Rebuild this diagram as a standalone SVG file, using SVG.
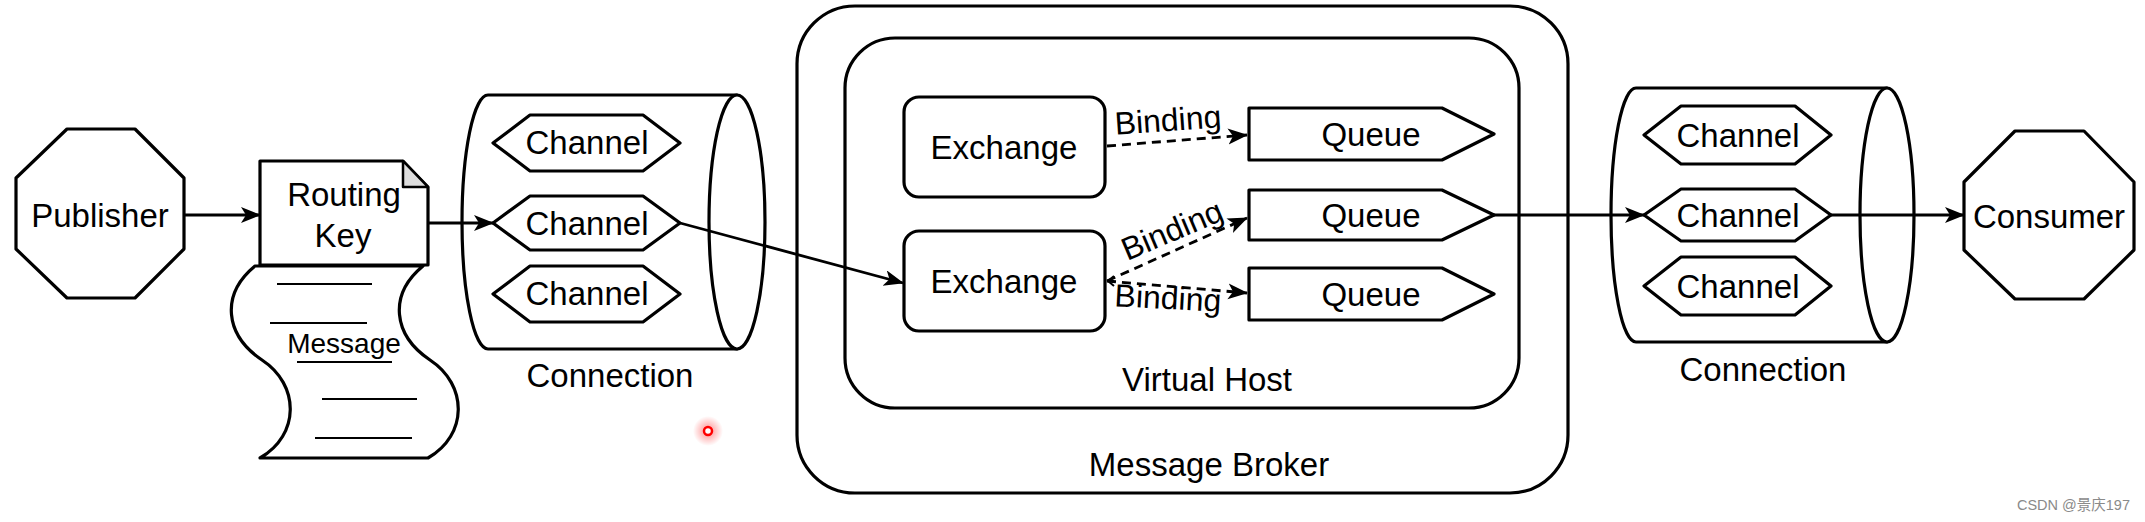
<svg xmlns="http://www.w3.org/2000/svg" width="2145" height="522" viewBox="0 0 2145 522">
<defs>
<style>
.s{fill:#fff;stroke:#000;stroke-width:3.2;stroke-linejoin:round}
.t{font-family:"Liberation Sans",Arial,sans-serif;font-size:33px;fill:#000;text-anchor:middle}
.c{fill:none;stroke:#000;stroke-width:2.8}
.d{fill:none;stroke:#000;stroke-width:2.8;stroke-dasharray:9 6}
.ml{stroke:#000;stroke-width:2.2}
</style>
<marker id="ah" markerUnits="userSpaceOnUse" markerWidth="22" markerHeight="18" refX="19" refY="8" orient="auto">
<path d="M0,0 L20,8 L0,16 L5,8 Z" fill="#000"/>
</marker>
<radialGradient id="glow">
<stop offset="0" stop-color="#ff0000" stop-opacity="0.45"/>
<stop offset="1" stop-color="#ff0000" stop-opacity="0"/>
</radialGradient>
</defs>
<rect width="2145" height="522" fill="#fff"/>

<g id="message-broker">
<rect class="s" x="797" y="6" width="771" height="487" rx="58" ry="58"/>
<text class="t" x="1209" y="476">Message Broker</text>
</g>
<g id="virtual-host">
<rect class="s" x="845" y="38" width="674" height="370" rx="50" ry="50"/>
<text class="t" x="1207" y="391">Virtual Host</text>
</g>

<g id="publisher">
<polygon class="s" points="67,129 135,129 184,178 184,249 135,298 67,298 16,249 16,178"/>
<text class="t" x="100" y="227">Publisher</text>
</g>

<g id="message">
<path class="s" d="M255,266 L423,266 C388,295 393,335 430,360 C468,385 468,435 428,458 L260,458 C300,435 300,385 262,360 C225,335 220,295 255,266 Z"/>
<line class="ml" x1="277" y1="284" x2="372" y2="284"/>
<line class="ml" x1="270" y1="323" x2="367" y2="323"/>
<line class="ml" x1="297" y1="362" x2="392" y2="362"/>
<line class="ml" x1="322" y1="399" x2="417" y2="399"/>
<line class="ml" x1="315" y1="438" x2="412" y2="438"/>
<text class="t" x="344" y="353" style="font-size:28px">Message</text>
</g>

<g id="routing-key">
<path class="s" d="M260,161 L403,161 L428,187 L428,265 L260,265 Z"/>
<path d="M403,161 L403,187 L428,187 Z" fill="#ddd" stroke="#000" stroke-width="2.5" stroke-linejoin="round"/>
<text class="t" x="344" y="206">Routing</text>
<text class="t" x="343" y="247">Key</text>
</g>

<g id="connection-left">
<path class="s" d="M737,95 L488,95 A26,127 0 0 0 488,349 L737,349 Z"/>
<ellipse class="s" cx="737" cy="222" rx="28" ry="127"/>
<text class="t" x="610" y="387">Connection</text>
</g>
<g id="channel-l1">
<polygon class="s" points="493,143 530,115 643,115 680,143 643,171 530,171"/>
<text class="t" x="587" y="154">Channel</text>
</g>
<g id="channel-l2">
<polygon class="s" points="493,223 530,196 643,196 680,223 643,250 530,250"/>
<text class="t" x="587" y="235">Channel</text>
</g>
<g id="channel-l3">
<polygon class="s" points="493,294 530,266 643,266 680,294 643,322 530,322"/>
<text class="t" x="587" y="305">Channel</text>
</g>

<g id="exchange-1">
<rect class="s" x="904" y="97" width="201" height="100" rx="15" ry="15"/>
<text class="t" x="1004" y="159">Exchange</text>
</g>
<g id="exchange-2">
<rect class="s" x="904" y="231" width="201" height="100" rx="15" ry="15"/>
<text class="t" x="1004" y="293">Exchange</text>
</g>

<g id="queue-1">
<polygon class="s" points="1249,108 1442,108 1494,134 1442,160 1249,160"/>
<text class="t" x="1371" y="146">Queue</text>
</g>
<g id="queue-2">
<polygon class="s" points="1249,190 1442,190 1494,215 1442,240 1249,240"/>
<text class="t" x="1371" y="227">Queue</text>
</g>
<g id="queue-3">
<polygon class="s" points="1249,268 1442,268 1494,294 1442,320 1249,320"/>
<text class="t" x="1371" y="306">Queue</text>
</g>

<g id="connection-right">
<path class="s" d="M1887,88 L1636,88 A25,127 0 0 0 1636,342 L1887,342 Z"/>
<ellipse class="s" cx="1887" cy="215" rx="27" ry="127"/>
<text class="t" x="1763" y="381">Connection</text>
</g>
<g id="channel-r1">
<polygon class="s" points="1644,135 1681,106 1795,106 1831,135 1795,164 1681,164"/>
<text class="t" x="1738" y="147">Channel</text>
</g>
<g id="channel-r2">
<polygon class="s" points="1644,215 1681,189 1795,189 1831,215 1795,241 1681,241"/>
<text class="t" x="1738" y="227">Channel</text>
</g>
<g id="channel-r3">
<polygon class="s" points="1644,286 1681,257 1795,257 1831,286 1795,315 1681,315"/>
<text class="t" x="1738" y="298">Channel</text>
</g>

<g id="consumer">
<polygon class="s" points="2015,131 2084,131 2134,182 2134,250 2084,299 2015,299 1964,250 1964,182"/>
<text class="t" x="2049" y="228">Consumer</text>
</g>

<g id="connectors">
<line class="c" x1="184" y1="215" x2="260" y2="215" marker-end="url(#ah)"/>
<line class="c" x1="428" y1="223" x2="493" y2="223" marker-end="url(#ah)"/>
<line class="c" x1="680" y1="223" x2="903" y2="283" marker-end="url(#ah)"/>
<line class="d" x1="1107" y1="146" x2="1247" y2="135" marker-end="url(#ah)"/>
<line class="d" x1="1107" y1="281" x2="1247" y2="218" marker-end="url(#ah)"/>
<line class="d" x1="1107" y1="281" x2="1247" y2="293" marker-end="url(#ah)"/>
<polyline class="c" points="1114,276 1108,281 1114,286" style="stroke-width:2"/>
<line class="c" x1="1494" y1="215" x2="1644" y2="215" marker-end="url(#ah)"/>
<line class="c" x1="1831" y1="215" x2="1964" y2="215" marker-end="url(#ah)"/>
<text class="t" x="1168" y="131" transform="rotate(-4 1168 121)" style="font-size:32px">Binding</text>
<text class="t" x="1172" y="241" transform="rotate(-23 1172 230)" style="font-size:32px">Binding</text>
<text class="t" x="1168" y="309" transform="rotate(3 1168 298)" style="font-size:32px">Binding</text>
</g>

<circle cx="708" cy="431" r="15" fill="url(#glow)"/>
<circle cx="708" cy="431" r="4" fill="#fff" stroke="#f00" stroke-width="2.5"/>
<text x="2130" y="510" style="font-family:'Liberation Sans','Noto Sans CJK SC',sans-serif;font-size:14.5px;fill:#8a8a8a;text-anchor:end">CSDN @景庆197</text>
</svg>
